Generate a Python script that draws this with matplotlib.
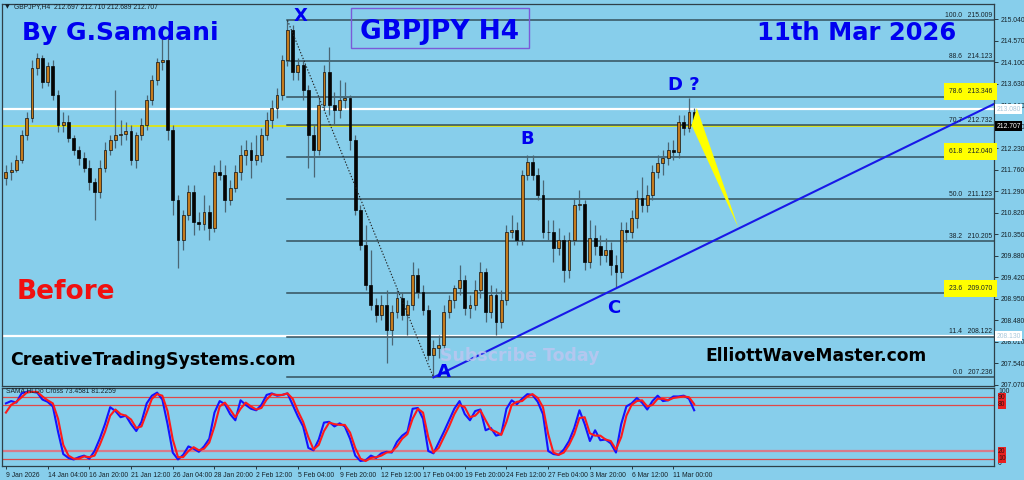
import matplotlib
matplotlib.use("Agg")
import matplotlib.pyplot as plt
from matplotlib.patches import Rectangle, Polygon
import numpy as np

# ---- GBPJPY H4 candles (one entry per 8 hours) ----
open_ = [211.58, 211.71, 211.75, 211.97, 212.51, 212.88, 213.97, 214.19, 213.67, 214.02,
         213.39, 212.73, 212.80, 212.45, 212.19, 212.01, 211.80, 211.49, 211.27, 211.80,
         212.19, 212.41, 212.51, 212.54, 212.60, 211.97, 212.51, 212.73, 213.28, 213.71,
         214.10, 214.15, 212.62, 211.10, 210.23, 210.77, 211.27, 210.62, 210.58, 210.84,
         210.49, 211.71, 211.64, 211.10, 211.36, 211.71, 212.08, 212.19, 211.97, 212.08,
         212.51, 212.84, 213.10, 213.39, 214.15, 214.80, 213.89, 214.04, 213.49, 212.51,
         212.19, 213.17, 213.89, 213.17, 213.06, 213.28, 213.32, 212.41, 210.88, 210.12,
         209.25, 208.81, 208.59, 208.81, 208.27, 208.66, 208.96, 208.59, 208.81, 209.47,
         209.10, 208.70, 207.72, 207.88, 207.94, 208.66, 208.92, 209.18, 209.36, 208.75,
         208.81, 209.14, 209.53, 208.66, 209.03, 208.44, 208.92, 210.40, 210.45, 210.23,
         211.64, 211.93, 211.64, 211.21, 210.40, 210.40, 210.05, 210.23, 209.57, 210.23,
         210.99, 211.02, 209.75, 210.27, 210.10, 209.90, 210.01, 209.68, 209.53, 210.45,
         210.40, 210.71, 211.14, 210.99, 211.21, 211.71, 211.90, 212.01, 212.19, 212.14,
         212.80, 212.67, 213.02]
high = [211.86, 211.93, 212.08, 212.62, 213.02, 214.15, 214.30, 214.26, 214.10, 214.15,
        213.49, 213.02, 212.95, 212.51, 212.27, 212.14, 211.97, 211.58, 211.97, 212.36,
        212.51, 213.49, 212.84, 212.80, 212.73, 212.58, 212.88, 213.39, 213.82, 214.19,
        214.65, 214.65, 212.73, 211.21, 210.88, 211.43, 211.43, 210.84, 211.21, 210.99,
        211.86, 211.97, 211.86, 211.53, 211.86, 212.30, 212.41, 212.36, 212.51, 212.67,
        213.02, 213.28, 213.54, 214.26, 215.01, 214.91, 214.19, 214.15, 213.60, 212.73,
        213.32, 214.04, 214.43, 213.45, 213.71, 213.67, 213.39, 212.51, 210.99, 210.55,
        210.01, 208.96, 209.03, 209.14, 208.81, 209.14, 209.10, 208.92, 209.75, 209.62,
        209.25, 208.81, 208.05, 208.16, 208.81, 209.03, 209.25, 209.68, 209.47, 209.03,
        209.36, 209.75, 209.62, 209.25, 209.18, 209.14, 210.55, 210.77, 210.62, 211.75,
        212.08, 212.08, 211.80, 211.53, 210.66, 210.66, 210.49, 210.34, 210.40, 211.14,
        211.32, 211.10, 210.66, 210.55, 210.34, 210.27, 210.18, 209.90, 210.62, 210.62,
        210.88, 211.32, 211.60, 211.43, 211.86, 212.08, 212.19, 212.36, 212.41, 212.95,
        212.95, 213.32, 213.10]
low = [211.43, 211.53, 211.71, 211.90, 212.41, 212.80, 213.82, 213.54, 213.58, 213.28,
       212.58, 212.58, 212.36, 212.08, 211.86, 211.71, 211.32, 210.66, 211.14, 211.71,
       212.08, 212.23, 212.30, 212.41, 211.86, 211.80, 212.41, 212.62, 213.17, 213.60,
       213.93, 212.41, 210.77, 209.62, 210.01, 210.66, 210.34, 210.45, 210.45, 210.23,
       210.40, 211.53, 210.84, 210.99, 211.27, 211.53, 211.86, 211.58, 211.86, 211.93,
       212.41, 212.67, 212.88, 213.28, 214.02, 213.71, 213.71, 213.28, 211.80, 211.60,
       212.08, 213.06, 212.95, 212.73, 212.88, 213.10, 212.19, 210.77, 210.01, 209.14,
       208.70, 208.44, 208.49, 207.55, 207.94, 208.53, 208.49, 208.16, 208.70, 208.96,
       208.59, 207.61, 207.236, 207.66, 207.83, 208.53, 208.75, 209.03, 208.59, 208.53,
       208.70, 208.96, 208.44, 208.53, 208.16, 208.31, 208.81, 210.27, 210.12, 210.12,
       211.53, 211.53, 211.10, 210.27, 210.23, 209.75, 209.90, 209.31, 209.40, 210.12,
       210.88, 209.57, 209.62, 209.90, 209.68, 209.75, 209.47, 209.20, 209.40, 210.18,
       210.27, 210.49, 210.84, 210.84, 211.10, 211.58, 211.64, 211.86, 211.97, 212.01,
       212.51, 212.58, 212.67]
close = [211.71, 211.75, 211.97, 212.51, 212.88, 213.97, 214.19, 213.67, 214.02, 213.39,
         212.73, 212.80, 212.45, 212.19, 212.01, 211.80, 211.49, 211.27, 211.80, 212.19,
         212.41, 212.51, 212.54, 212.60, 211.97, 212.51, 212.73, 213.28, 213.71, 214.10,
         214.15, 212.62, 211.10, 210.23, 210.77, 211.27, 210.62, 210.58, 210.84, 210.49,
         211.71, 211.64, 211.10, 211.36, 211.71, 212.08, 212.19, 211.97, 212.08, 212.51,
         212.84, 213.10, 213.39, 214.15, 214.80, 213.89, 214.04, 213.49, 212.51, 212.19,
         213.17, 213.89, 213.17, 213.06, 213.28, 213.32, 212.41, 210.88, 210.12, 209.25,
         208.81, 208.59, 208.81, 208.27, 208.66, 208.96, 208.59, 208.81, 209.47, 209.10,
         208.70, 207.72, 207.88, 207.94, 208.66, 208.92, 209.18, 209.36, 208.75, 208.81,
         209.14, 209.53, 208.66, 209.03, 208.44, 208.92, 210.40, 210.45, 210.23, 211.64,
         211.93, 211.64, 211.21, 210.40, 210.40, 210.05, 210.23, 209.57, 210.23, 210.99,
         211.02, 209.75, 210.27, 210.10, 209.90, 210.01, 209.68, 209.53, 210.45, 210.40,
         210.71, 211.14, 210.99, 211.21, 211.71, 211.90, 212.01, 212.19, 212.14, 212.80,
         212.67, 213.02, 212.707]

# ---- oscillator (blue main line, red signal line) ----
stoch_main = [82, 85, 83, 95, 97, 97, 96, 87, 84, 78, 45, 16, 11, 9, 12, 14, 10, 20, 36, 55,
              77, 72, 64, 66, 55, 46, 58, 82, 92, 96, 87, 55, 18, 9, 15, 26, 23, 19, 26, 36,
              70, 85, 81, 68, 60, 86, 80, 75, 73, 80, 93, 95, 92, 93, 95, 80, 65, 52, 24, 21,
              35, 57, 58, 52, 56, 52, 36, 14, 7, 8, 14, 11, 17, 19, 18, 32, 40, 45, 75, 76,
              62, 20, 17, 31, 45, 60, 75, 85, 68, 60, 72, 74, 47, 50, 40, 42, 75, 86, 81, 88,
              94, 93, 84, 68, 20, 16, 15, 22, 33, 50, 73, 55, 33, 47, 34, 35, 30, 18, 55, 78,
              82, 89, 83, 74, 85, 92, 85, 86, 91, 91, 92, 88, 73]
stoch_signal = [70, 80, 84, 90, 96, 97, 97, 91, 86, 82, 62, 28, 14, 10, 10, 13, 12, 14, 28, 45,
                66, 74, 68, 66, 61, 50, 52, 70, 88, 94, 92, 72, 35, 12, 12, 20, 25, 21, 23, 31,
                52, 78, 83, 74, 64, 75, 83, 78, 74, 76, 87, 94, 93, 93, 95, 88, 72, 58, 38, 22,
                28, 46, 57, 55, 54, 54, 44, 24, 10, 7, 11, 12, 14, 18, 19, 26, 36, 42, 62, 75,
                70, 38, 18, 24, 38, 52, 68, 80, 77, 64, 66, 73, 60, 48, 45, 41, 58, 80, 84, 85,
                91, 94, 89, 77, 42, 18, 15, 18, 28, 42, 63, 64, 43, 40, 40, 35, 33, 22, 38, 66,
                80, 85, 86, 78, 80, 88, 88, 86, 89, 90, 91, 90, 81]

date_labels = ["9 Jan 2026", "14 Jan 04:00", "16 Jan 20:00", "21 Jan 12:00", "26 Jan 04:00",
               "28 Jan 20:00", "2 Feb 12:00", "5 Feb 04:00", "9 Feb 20:00", "12 Feb 12:00",
               "17 Feb 04:00", "19 Feb 20:00", "24 Feb 12:00", "27 Feb 04:00", "3 Mar 20:00",
               "6 Mar 12:00", "11 Mar 00:00"]
price_ticks = [215.040, 214.570, 214.100, 213.630, 213.160, 212.690, 212.230, 211.760, 211.290,
               210.820, 210.350, 209.880, 209.420, 208.950, 208.480, 208.010, 207.540, 207.070]

fib_pct = [0.0, 11.4, 23.6, 38.2, 50.0, 61.8, 70.7, 78.6, 88.6, 100.0]
fib_price = [207.236, 208.122, 209.070, 210.205, 211.123, 212.040, 212.732, 213.346, 214.123, 215.009]
fib_marked = [23.6, 61.8, 78.6]

white_levels = [213.080, 208.130]
last_price = 212.707
stoch_levels = [90, 80, 20, 10]

BG = "#87ceeb"
BLUE = "#0000f0"
INK = "#16232a"
SMALL = "Liberation Sans"
FS = 4.9
BARS_PER_CANDLE = 2
X_BAR = 54      # candle index of the X high
A_BAR = 82      # candle index of the A low

fig = plt.figure(figsize=(10.24, 4.8), dpi=100)
fig.patch.set_facecolor(BG)
ax = fig.add_axes([2 / 1024, 1 - 386 / 480, 992 / 1024, 382 / 480])
sub = fig.add_axes([2 / 1024, 1 - 466 / 480, 992 / 1024, 78 / 480], sharex=ax)

for a in (ax, sub):
    a.set_facecolor(BG)
    for s in a.spines.values():
        s.set_color("#2f3f48")
        s.set_linewidth(0.9)

x = np.arange(len(close)) * BARS_PER_CANDLE
xmax = 379
ax.set_xlim(-1.5, xmax)
ax.set_ylim(207.048, 215.367)

# horizontal lines
for lv in white_levels:
    ax.axhline(lv, color="white", lw=1.6, zorder=1)
ax.axhline(last_price, color="#e6e600", lw=1.2, zorder=1)

x0 = x[X_BAR]
for pct, pr in zip(fib_pct, fib_price):
    ax.plot([x0, xmax], [pr, pr], color="#34505c", lw=1.1, zorder=2)
    txt = ax.text(0.998, pr + 0.03, f"{pct:.1f}   {pr:.3f}", transform=ax.get_yaxis_transform(),
                  ha="right", va="bottom", fontsize=FS, family=SMALL, color=INK, zorder=6)
    if pct in fib_marked:
        txt.set_bbox(dict(facecolor="#ffff00", edgecolor="none", pad=3.6))

# candles
bull = np.array(close) >= np.array(open_)
ax.vlines(x, low, high, color="#4a6674", lw=0.9, zorder=3)
body_lo = np.minimum(open_, close)
body_h = np.maximum(np.abs(np.array(close) - np.array(open_)), 0.012)
ax.bar(x[bull], body_h[bull], bottom=body_lo[bull], width=1.1, color="#c47a1c",
       edgecolor="#111111", lw=0.5, zorder=4)
ax.bar(x[~bull], body_h[~bull], bottom=body_lo[~bull], width=1.1, color="#050505",
       edgecolor="#050505", lw=0.5, zorder=4)

# X-A dotted leg and A-C trendline
ax.plot([x[X_BAR], x[A_BAR]], [high[X_BAR], low[A_BAR]], color="#222222", lw=0.8,
        ls=(0, (1.2, 1.6)), zorder=5)
ax.plot([x[A_BAR], xmax], [low[A_BAR], 213.19], color="#1818e8", lw=1.5, zorder=5)

# projected move from D
ax.add_patch(Polygon([[x[-1] - 1, 212.73], [x[-1] + 1, 213.10], [x[-1] + 17, 210.49]],
                     closed=True, facecolor="#ffff00", edgecolor="none", zorder=5))

# wave labels
wave_kw = dict(color=BLUE, fontsize=13, fontweight="bold", ha="center", va="center", zorder=7)
ax.text(113, 215.11, "X", **wave_kw)
ax.text(168, 207.35, "A", **wave_kw)
ax.text(200, 212.43, "B", **wave_kw)
ax.text(233, 208.75, "C", **wave_kw)
ax.text(260, 213.60, "D ?", **wave_kw)

# titles and watermarks
ax.text(0.0202, 0.924, "By G.Samdani", transform=ax.transAxes, color=BLUE, fontsize=18,
        fontweight="bold", ha="left", va="center")
ax.text(0.4415, 0.927, "GBPJPY H4", transform=ax.transAxes, color=BLUE, fontsize=19,
        fontweight="bold", ha="center", va="center")
ax.add_patch(Rectangle((0.3518, 0.8848), 0.1794, 0.1047, transform=ax.transAxes,
                       facecolor="none", edgecolor="#7a5ad8", lw=1.0, zorder=6))
ax.text(0.761, 0.924, "11th Mar 2026", transform=ax.transAxes, color=BLUE, fontsize=17.5,
        fontweight="bold", ha="left", va="center")
ax.text(0.0151, 0.246, "Before", transform=ax.transAxes, color="#f01010", fontsize=19,
        fontweight="bold", ha="left", va="center")
ax.text(0.0081, 0.068, "CreativeTradingSystems.com", transform=ax.transAxes, color="black",
        fontsize=12.5, fontweight="bold", ha="left", va="center", zorder=7)
ax.text(0.7087, 0.0785, "ElliottWaveMaster.com", transform=ax.transAxes, color="black",
        fontsize=12.3, fontweight="bold", ha="left", va="center", zorder=7)
ax.text(0.4415, 0.0785, "Subscribe Today", transform=ax.transAxes, color="#bcc6f0",
        alpha=0.85, fontsize=12.5, fontweight="bold", ha="left", va="center", zorder=7)
ax.text(0.003, 0.9925, "\u25bc", transform=ax.transAxes, color=INK, fontsize=4.5,
        ha="left", va="center")
ax.text(0.012, 0.9925, "GBPJPY,H4  212.697 212.710 212.689 212.707", transform=ax.transAxes,
        color=INK, fontsize=FS, family=SMALL, ha="left", va="center")

# price axis
ax.yaxis.tick_right()
ax.set_yticks(price_ticks)
ax.set_yticklabels([f"{p:.3f}" for p in price_ticks], family=SMALL)
ax.tick_params(axis="y", direction="out", length=3, width=0.6, pad=1.5, labelsize=FS,
               colors=INK)
ax.tick_params(axis="x", bottom=False, labelbottom=False)

ytr = ax.get_yaxis_transform()
for lv in white_levels:
    ax.text(1.0025, lv, f"{lv:.3f}", transform=ytr, ha="left", va="center", fontsize=FS,
            family=SMALL, color="#a8c8dc", clip_on=False, zorder=8,
            bbox=dict(facecolor="white", edgecolor="none", pad=1.0))
ax.text(1.0025, last_price, f"{last_price:.3f}", transform=ytr, ha="left", va="center",
        fontsize=FS, family=SMALL, color="white", clip_on=False, zorder=8,
        bbox=dict(facecolor="black", edgecolor="none", pad=1.0))

# oscillator panel
sub.set_ylim(0.5, 102)
for lv in stoch_levels:
    sub.axhline(lv, color="#e04848" if lv != 20 else "#d87a8a", lw=0.9 if lv != 20 else 1.6)
sub.plot(x, stoch_main, color="#1414ff", lw=1.5)
sub.plot(x, stoch_signal, color="#ff1a1a", lw=1.5)
sub.text(0.004, 0.95, "SAMA HLDo Cross 73.4581 81.2259", transform=sub.transAxes,
         fontsize=FS, family=SMALL, color=INK, ha="left", va="center")
str_ = sub.get_yaxis_transform()
sub.text(1.004, 97, "100", transform=str_, fontsize=FS, family=SMALL, color=INK,
         ha="left", va="center", clip_on=False)
sub.text(1.004, 4, "0", transform=str_, fontsize=FS, family=SMALL, color=INK, ha="left",
         va="center", clip_on=False)
for lv in stoch_levels:
    sub.text(1.004, lv, f"{lv}", transform=str_, fontsize=FS, family=SMALL, color="#3a1010",
             ha="left", va="center", clip_on=False, zorder=5,
             bbox=dict(facecolor="#e82020", edgecolor="none", pad=0.3))
sub.set_yticks([])
sub.set_xticks(np.arange(len(date_labels)) * 16)
sub.set_xticklabels(date_labels, ha="left", family=SMALL)
sub.tick_params(axis="x", direction="out", length=2.5, width=0.6, pad=1.5, labelsize=FS,
                colors=INK)

fig.savefig("out.png", dpi=100, facecolor=BG)
